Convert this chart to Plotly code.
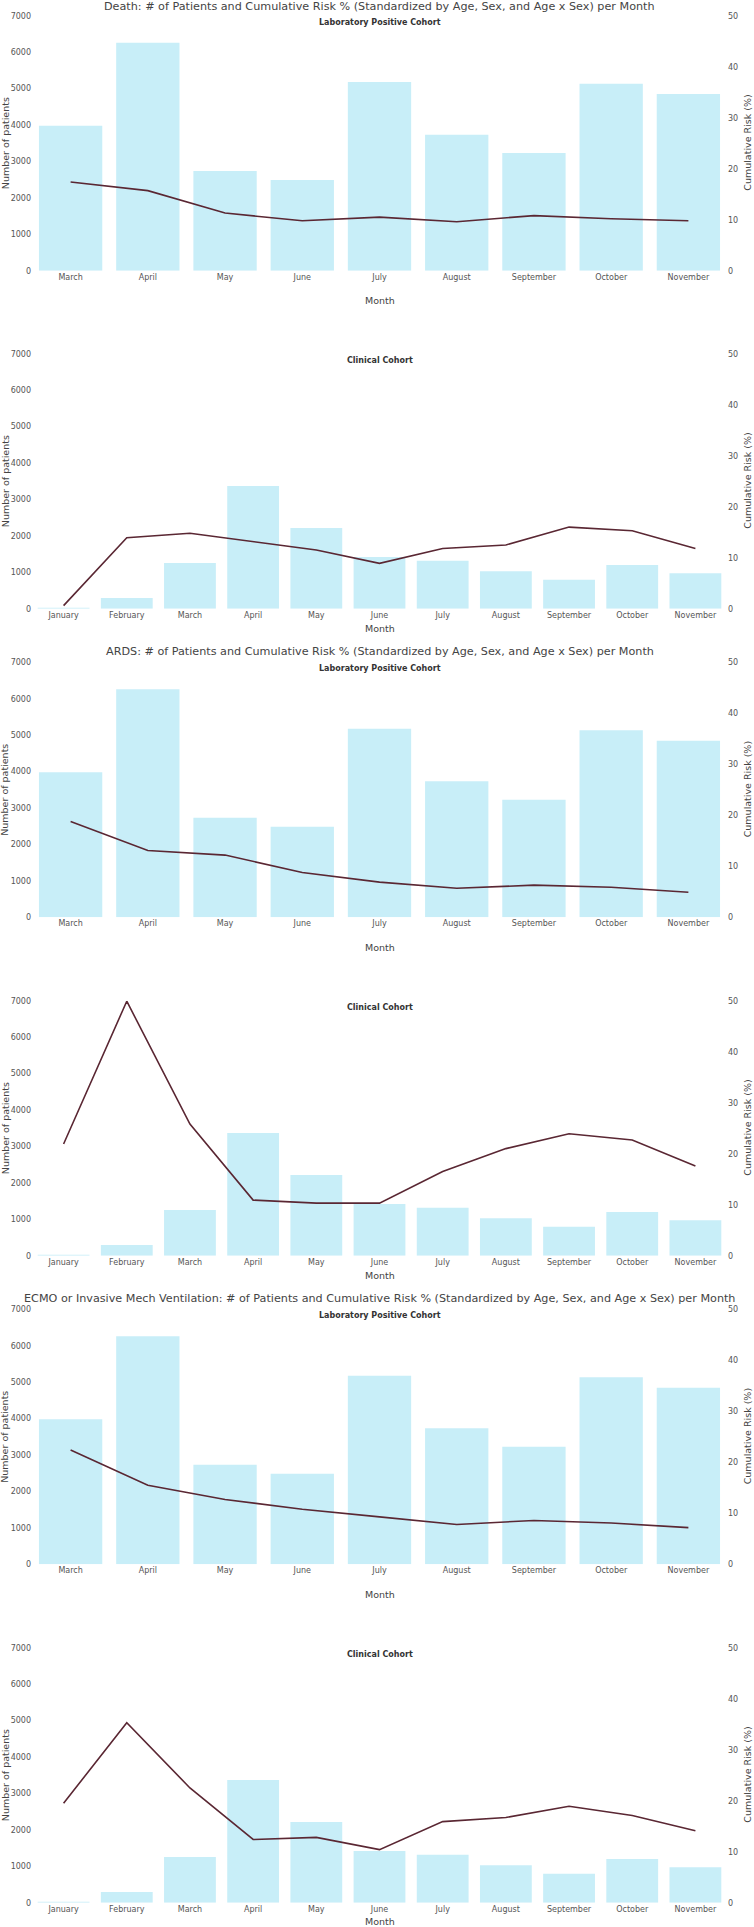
import plotly.graph_objects as go
from plotly.subplots import make_subplots

# ---------------- data ----------------
lab_months = ["March", "April", "May", "June", "July", "August",
              "September", "October", "November"]
clin_months = ["January", "February", "March", "April", "May", "June",
               "July", "August", "September", "October", "November"]

lab_patients = [3980, 6258, 2736, 2489, 5178, 3733, 3230, 5133, 4849]
clin_patients = [20, 293, 1253, 3367, 2214, 1418, 1317, 1025, 796, 1199, 970]

death_lab_risk = [17.4, 15.7, 11.3, 9.8, 10.5, 9.6, 10.8, 10.2, 9.8]
death_clin_risk = [0.6, 13.9, 14.8, 13.2, 11.5, 8.9, 11.8, 12.5, 16.0, 15.3, 11.8]

ards_lab_risk = [18.8, 13.1, 12.2, 8.8, 6.9, 5.7, 6.3, 5.9, 4.9]
ards_clin_risk = [21.9, 49.9, 25.8, 10.9, 10.3, 10.3, 16.5, 21.0, 23.9, 22.7, 17.6]

ecmo_lab_risk = [22.4, 15.5, 12.7, 10.8, 9.3, 7.8, 8.6, 8.1, 7.2]
ecmo_clin_risk = [19.5, 35.3, 22.5, 12.4, 12.8, 10.4, 15.9, 16.7, 18.9, 17.1, 14.1]

outcomes = [
    "Death: # of Patients and Cumulative Risk % (Standardized by Age, Sex, and Age x Sex) per Month",
    "ARDS: # of Patients and Cumulative Risk % (Standardized by Age, Sex, and Age x Sex) per Month",
    "ECMO or Invasive Mech Ventilation: # of Patients and Cumulative Risk % (Standardized by Age, Sex, and Age x Sex) per Month",
]
cohorts = ["Laboratory Positive Cohort", "Clinical Cohort"]

panels = [
    (lab_months, lab_patients, death_lab_risk),
    (clin_months, clin_patients, death_clin_risk),
    (lab_months, lab_patients, ards_lab_risk),
    (clin_months, clin_patients, ards_clin_risk),
    (lab_months, lab_patients, ecmo_lab_risk),
    (clin_months, clin_patients, ecmo_clin_risk),
]

# ---------------- layout geometry (pixels) ----------------
W, H = 754, 1927
ML, MR = 32, 27
PW = W - ML - MR
tops = [15.7, 353.7, 662.3, 1000.7, 1309.3, 1647.7]
PH = 255.0

BAR_COLOR = "#c8eef8"
LINE_COLOR = "#5a2733"
FONT = "DejaVu Sans, Verdana, sans-serif"


def px_x(px):
    return (px - ML) / PW


def px_y(py):
    return 1 - py / H


fig = make_subplots(rows=6, cols=1, specs=[[{"secondary_y": True}]] * 6)

for i, (months, pats, risk) in enumerate(panels):
    r = i + 1
    fig.add_trace(go.Bar(x=months, y=pats, marker_color=BAR_COLOR,
                         marker_line_width=0, name="Number of patients",
                         showlegend=False), row=r, col=1, secondary_y=False)
    fig.add_trace(go.Scatter(x=months, y=risk, mode="lines",
                             line=dict(color=LINE_COLOR, width=1.6),
                             name="Cumulative Risk (%)", showlegend=False),
                  row=r, col=1, secondary_y=True)

annotations = []
for i in range(6):
    r = i + 1
    top = tops[i]
    bot = top + PH
    dom = [px_y(bot), px_y(top)]
    lab = (i % 2 == 0)
    fig.update_xaxes(row=r, col=1, domain=[0, 1], showgrid=False, zeroline=False,
                     showline=False, ticks="", automargin=False,
                     tickfont=dict(size=8, color="#555", family=FONT))
    fig.update_yaxes(row=r, col=1, secondary_y=False, domain=dom, range=[0, 7000],
                     dtick=1000, showgrid=False, zeroline=False, showline=False,
                     automargin=False, tickfont=dict(size=8, color="#555", family=FONT))
    fig.update_yaxes(row=r, col=1, secondary_y=True, range=[0, 50], dtick=10,
                     showgrid=False, zeroline=False, showline=False,
                     automargin=False, tickfont=dict(size=8, color="#555", family=FONT))
    # x-axis title "Month"
    month_y = bot + (30 if lab else 20)
    if i == 5:
        month_y -= 1.5
    annotations.append(dict(text="Month", x=0.5, xref="paper", y=px_y(month_y),
                            yref="paper", xanchor="center", yanchor="middle",
                            showarrow=False, font=dict(size=9.5, color="#444", family=FONT)))
    # y-axis titles
    mid = px_y(top + PH / 2)
    annotations.append(dict(text="Number of patients", x=px_x(5), xref="paper", y=mid,
                            yref="paper", xanchor="center", yanchor="middle",
                            textangle=-90, showarrow=False,
                            font=dict(size=9.5, color="#444", family=FONT)))
    annotations.append(dict(text="Cumulative Risk (%)", x=px_x(747.5), xref="paper", y=mid,
                            yref="paper", xanchor="center", yanchor="middle",
                            textangle=-90, showarrow=False,
                            font=dict(size=9.5, color="#444", family=FONT)))
    # cohort subtitle
    annotations.append(dict(text="<b>" + cohorts[i % 2] + "</b>", x=0.5, xref="paper",
                            y=px_y(top + 6.5), yref="paper", xanchor="center",
                            yanchor="middle", showarrow=False,
                            font=dict(size=8, color="#333", family=FONT)))
    # outcome title
    if lab:
        ty = top - 11 if i > 0 else 6.5
        annotations.append(dict(text=outcomes[i // 2], x=0.5, xref="paper",
                                y=px_y(ty), yref="paper", xanchor="center",
                                yanchor="middle", showarrow=False,
                                font=dict(size=11.2, color="#444", family=FONT)))

fig.update_layout(
    width=W, height=H,
    margin=dict(l=ML, r=MR, t=0, b=0, pad=0),
    paper_bgcolor="white", plot_bgcolor="white",
    bargap=0.18, showlegend=False,
    annotations=annotations,
    font=dict(family=FONT, color="#444"),
)

fig.write_html("out.html", config={"displayModeBar": False},
               post_script="document.body.style.margin='0';document.body.style.overflow='hidden';")
